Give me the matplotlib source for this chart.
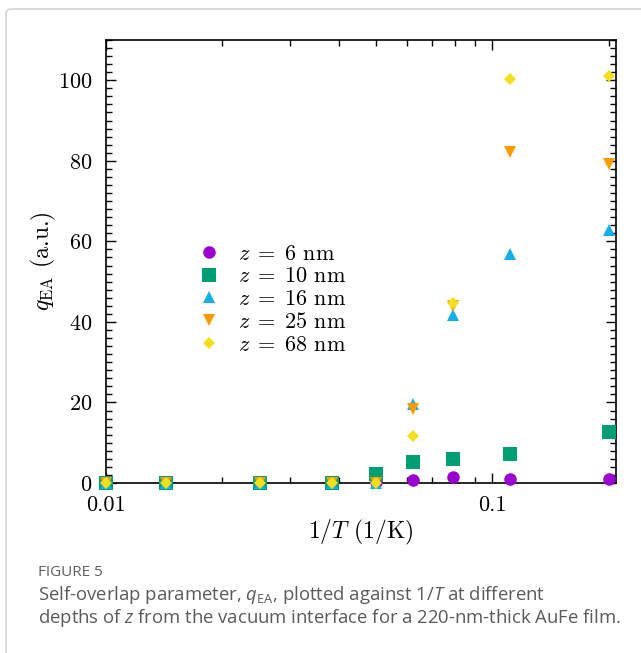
import matplotlib
matplotlib.use("Agg")
import matplotlib.pyplot as plt
from matplotlib.ticker import LogLocator, NullFormatter, MultipleLocator
from matplotlib.patches import FancyBboxPatch

# data
inv_T = [0.01, 0.0143, 0.025, 0.0385, 0.05, 0.0625, 0.079, 0.111, 0.2]
q_6nm = [0, 0, 0, 0.1, 0.2, 0.7, 1.5, 1.0, 1.0]
q_10nm = [0, 0, 0, 0, 2.3, 5.2, 6.0, 7.1, 12.6]
q_16nm = [0, 0, 0, 0, 0, 19.5, 41.8, 56.8, 62.7]
q_25nm = [0, 0, 0, 0, 0, 18.4, 44.0, 82.2, 79.3]
q_68nm = [0, 0, 0, 0, 0, 11.7, 44.8, 100.4, 101.0]
labels = [r"$z\;=\;6$ nm", r"$z\;=\;10$ nm", r"$z\;=\;16$ nm", r"$z\;=\;25$ nm", r"$z\;=\;68$ nm"]

plt.rcParams["font.family"] = "cmr10"
plt.rcParams["mathtext.fontset"] = "cm"
plt.rcParams["axes.formatter.use_mathtext"] = True
plt.rcParams["axes.unicode_minus"] = False

fig = plt.figure(figsize=(6.41, 6.53), dpi=100)

# light frame round the figure panel
frame = FancyBboxPatch((6 / 641, -0.05), 1.2, 1.05 - 9 / 653, boxstyle="round,pad=0,rounding_size=0.008",
                       transform=fig.transFigure, facecolor="none", edgecolor="#d4d4d4", lw=1.2)
fig.patches.append(frame)

ax = fig.add_axes([106 / 641, 1 - 483 / 653, 510 / 641, 443 / 653])

series = [
    (q_6nm, "o", "#9a00d0", 9),
    (q_10nm, "s", "#009e73", 10),
    (q_16nm, "^", "#12b0ea", 8.5),
    (q_25nm, "v", "#fa9c00", 8.5),
    (q_68nm, "D", "#f3df1c", 6.5),
]
for (vals, mk, col, ms), lab in zip(series, labels):
    ax.plot(inv_T, vals, linestyle="none", marker=mk, color=col, markersize=ms,
            markeredgewidth=0, label=lab, clip_on=False, zorder=3)

ax.set_xscale("log")
ax.set_xlim(0.01, 0.209)
ax.set_ylim(0, 110)
ax.set_xticks([0.01, 0.1], labels=["0.01", "0.1"])
ax.xaxis.set_minor_locator(LogLocator(base=10, subs=range(2, 10)))
ax.xaxis.set_minor_formatter(NullFormatter())
ax.yaxis.set_major_locator(MultipleLocator(20))
ax.yaxis.set_minor_locator(MultipleLocator(2))

for side in ax.spines.values():
    side.set_linewidth(1.2)
ax.tick_params(which="both", direction="in", top=True, right=True, labelsize=16)
ax.tick_params(which="major", length=7, width=1)
ax.tick_params(which="minor", length=4, width=1)
ax.tick_params(axis="x", pad=9)
ax.tick_params(axis="y", pad=10)

ax.set_xlabel(r"$1/T$ (1/K)", fontsize=17, labelpad=2)
ax.set_ylabel(r"$q_{\rm EA}$ (a.u.)", fontsize=17, labelpad=0)

ax.legend(loc="upper left", bbox_to_anchor=(0.148, 0.564), frameon=False, fontsize=16,
          handletextpad=0.55, labelspacing=0.14, borderpad=0, handlelength=1.5)

# caption
plt.rcParams["mathtext.rm"] = "Open Sans"
plt.rcParams["mathtext.it"] = "Open Sans:italic"
fig.text(38 / 641, 1 - 573 / 653, "FIGURE 5", fontsize=11, color="#5e5e5e",
         family="Open Sans", va="center")
fig.text(38 / 641, 1 - 595 / 653,
         r"Self-overlap parameter, $q_{\mathrm{EA}}$, plotted against 1/$T$ at different",
         fontsize=13.3, color="#5a5a5a", family="Open Sans", va="center", math_fontfamily="custom")
fig.text(38 / 641, 1 - 618 / 653,
         r"depths of $z$ from the vacuum interface for a 220-nm-thick AuFe film.",
         fontsize=13.3, color="#5a5a5a", family="Open Sans", va="center", math_fontfamily="custom")

fig.savefig("out.png", dpi=100)
